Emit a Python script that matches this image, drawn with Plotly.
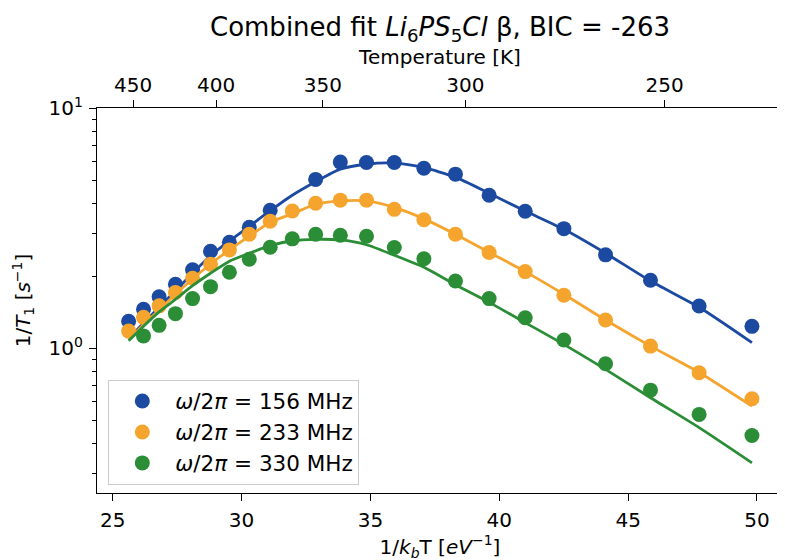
import plotly.graph_objects as go

# ---------------- data ----------------
inv_kT = [25.617, 26.195, 26.800, 27.434, 28.098, 28.795, 29.528, 30.299, 31.111, 31.968,
          32.874, 33.832, 34.848, 35.927, 37.075, 38.299, 39.606, 41.006, 42.507, 44.124,
          45.868, 47.755, 49.805]

# measured 1/T1 (None = no point at that temperature)
rate_156 = [1.296, 1.454, 1.639, 1.848, 2.123, 2.536, 2.765, 3.19, 3.758, None,
            5.05, 5.96, 5.94, 5.94, 5.62, 5.31, 4.34, 3.72, 3.15, 2.45,
            1.92, 1.50, 1.235]
rate_233 = [1.18, 1.346, 1.503, 1.71, 1.957, 2.24, 2.57, 2.985, 3.38, 3.73,
            4.02, 4.14, 4.14, 3.79, 3.43, 2.985, 2.505, 2.087, 1.663, 1.312,
            1.022, 0.792, 0.617]
rate_330 = [None, 1.127, 1.247, 1.395, 1.611, 1.807, 2.073, 2.35, 2.635, 2.857,
            2.985, 2.957, 2.93, 2.63, 2.36, 1.907, 1.611, 1.342, 1.083, 0.863,
            0.67, 0.531, 0.434]

# combined fit curves
fit_156 = [1.095, 1.276, 1.482, 1.736, 2.054, 2.429, 2.80, 3.22, 3.74, 4.34,
           4.94, 5.57, 5.84, 5.90, 5.65, 5.16, 4.42, 3.73, 3.13, 2.49,
           1.907, 1.482, 1.056]
fit_233 = [1.090, 1.255, 1.445, 1.680, 1.944, 2.245, 2.57, 2.93, 3.35, 3.63,
           3.98, 4.11, 4.11, 3.86, 3.46, 2.985, 2.51, 2.087, 1.679, 1.312,
           1.022, 0.794, 0.575]
fit_330 = [1.075, 1.237, 1.419, 1.600, 1.823, 2.054, 2.304, 2.488, 2.678, 2.805,
           2.845, 2.826, 2.70, 2.441, 2.175, 1.839, 1.554, 1.28, 1.039, 0.818,
           0.623, 0.468, 0.334]

series_labels = ["<i>ω</i>/2<i>π</i> = 156 MHz",
                 "<i>ω</i>/2<i>π</i> = 233 MHz",
                 "<i>ω</i>/2<i>π</i> = 330 MHz"]

bottom_ticks = [25, 30, 35, 40, 45, 50]
top_tick_temps = [450, 400, 350, 300, 250]   # Temperature [K]
KB_EV = 8.617333e-5                           # Boltzmann constant, eV/K

# ---------------- style ----------------
colors = ["#1B4AA0", "#F5A42D", "#2B8E37"]
FONT = "DejaVu Sans"
TXT = "#000000"

fig = go.Figure()
for rates, fits, col, lab in zip([rate_156, rate_233, rate_330],
                                 [fit_156, fit_233, fit_330], colors, series_labels):
    fig.add_trace(go.Scatter(x=inv_kT, y=rates, mode="markers", name=lab,
                             marker=dict(color=col, size=15, line=dict(width=0)),
                             hoverinfo="skip"))
    fig.add_trace(go.Scatter(x=inv_kT, y=fits, mode="lines", showlegend=False,
                             line=dict(color=col, width=2.8, shape="spline", smoothing=0.6),
                             hoverinfo="skip"))

# invisible trace to activate the top temperature axis
fig.add_trace(go.Scatter(x=inv_kT, y=fit_156, xaxis="x2", mode="markers",
                         marker=dict(opacity=0), showlegend=False, hoverinfo="skip"))

xr = [24.39, 51.01]
# the page body adds an 8 px offset, so margins are shifted by 8 px
fig.update_layout(
    width=785, height=560,
    margin=dict(l=89, r=10, t=100, b=75, autoexpand=False),
    paper_bgcolor="white", plot_bgcolor="white",
    font=dict(family=FONT, size=20, color=TXT),
    title=dict(text="Combined fit <i>Li</i><sub>6</sub><i>PS</i><sub>5</sub><i>Cl</i> β, BIC = -263",
               x=0.5, xref="paper", xanchor="center", y=0.966, yanchor="middle",
               font=dict(family=FONT, size=26, color=TXT)),
    xaxis=dict(range=xr, tickvals=bottom_ticks, ticks="outside", ticklen=7, tickwidth=1.3,
               tickcolor="black", showline=True, linecolor="black", linewidth=1.3,
               showgrid=False, zeroline=False, mirror=False, automargin=False,
               tickfont=dict(size=20), ticklabelstandoff=2,
               title=dict(text="1/<i>k</i><sub><i>b</i></sub>T [<i>eV</i><sup>−1</sup>]",
                          font=dict(size=20), standoff=7)),
    xaxis2=dict(range=xr, overlaying="x", side="top", anchor="y", automargin=False,
                tickvals=[1.0 / (KB_EV * t) for t in top_tick_temps],
                ticktext=[str(t) for t in top_tick_temps],
                ticks="outside", ticklen=7, tickwidth=1.3, tickcolor="black",
                showline=True, linecolor="black", linewidth=1.3,
                showgrid=False, zeroline=False, tickfont=dict(size=20),
                title=dict(text="Temperature [K]", font=dict(size=20), standoff=2)),
    yaxis=dict(type="log", range=[-0.602, 1.0005], tickvals=[1, 10],
               ticktext=["10<sup>0</sup>", "10<sup>1</sup>"],
               ticks="outside", ticklen=7, tickwidth=1.3, tickcolor="black",
               minor=dict(tickvals=[0.3, 0.4, 0.5, 0.6, 0.7, 0.8, 0.9,
                                    2, 3, 4, 5, 6, 7, 8, 9],
                          ticks="outside", ticklen=4, tickwidth=1, tickcolor="black",
                          showgrid=False),
               showline=True, linecolor="black", linewidth=1.3, mirror=True,
               showgrid=False, zeroline=False, automargin=False, tickfont=dict(size=20),
               ticklabelstandoff=2,
               title=dict(text="1/<i>T</i><sub>1</sub> [<i>s</i><sup>−1</sup>]",
                          font=dict(size=20), standoff=12)),
    legend=dict(x=0.0165, y=0.022, xanchor="left", yanchor="bottom",
                bgcolor="white", bordercolor="#cccccc", borderwidth=1,
                font=dict(size=21.5), itemwidth=56, tracegroupgap=0),
    showlegend=True,
)

fig.write_html("out.html")
